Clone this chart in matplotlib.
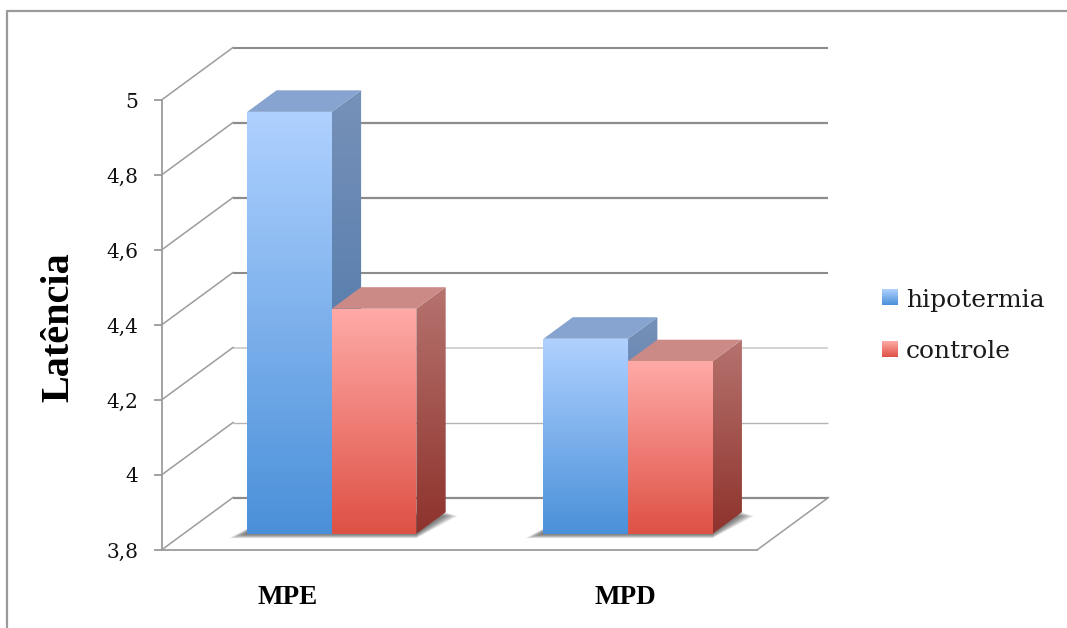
import numpy as np
import matplotlib
matplotlib.use("Agg")
import matplotlib.pyplot as plt
from matplotlib.colors import LinearSegmentedColormap
from matplotlib.lines import Line2D
from matplotlib.patches import Polygon

categories = ["MPE", "MPD"]
series_names = ["hipotermia", "controle"]
hipotermia = [4.925, 4.32]
controle = [4.40, 4.26]
tick_values = [3.8, 4.0, 4.2, 4.4, 4.6, 4.8, 5.0]
tick_labels = ["3,8", "4", "4,2", "4,4", "4,6", "4,8", "5"]

W, H = 1067, 628
AX_L, AX_R, AX_T, AX_B = 161.5, 757.0, 100.0, 550.0
WALL_DX, WALL_DY = 71.5, 52.5
Y0, Y1 = 3.8, 5.0
BAR_W = 0.284
NEAR, FAR = 0.31, 0.72
GRAY = "#929292"

fig = plt.figure(figsize=(W / 100, H / 100), dpi=100, facecolor="white")
ax = fig.add_axes([AX_L / W, 1 - AX_B / H, (AX_R - AX_L) / W, (AX_B - AX_T) / H])
ax.set_facecolor("none")
XS = (AX_R - AX_L) / 2
YS = (AX_B - AX_T) / (Y1 - Y0)


def project(x, v, depth):
    """Place a point given in chart units at a fraction of the wall depth."""
    return x + depth * WALL_DX / XS, v + depth * WALL_DY / YS


def cmap(top, bottom):
    return LinearSegmentedColormap.from_list("g", [bottom, top])


def shade(points, top, bottom, z):
    """Fill a polygon with a vertical colour gradient."""
    pts = np.array(points)
    poly = Polygon(pts, closed=True, fc="none", ec="none", transform=ax.transData)
    ax.add_patch(poly)
    grad = np.linspace(1, 0, 256).reshape(-1, 1)
    im = ax.imshow(grad, cmap=cmap(top, bottom), vmin=0, vmax=1, aspect="auto",
                   interpolation="bilinear", zorder=z,
                   extent=[pts[:, 0].min(), pts[:, 0].max(), pts[:, 1].min(), pts[:, 1].max()])
    im.set_clip_box(fig.bbox)
    im.set_clip_path(poly)


def bar3d(x0, value, front, side, roof, z):
    x1 = x0 + BAR_W
    shade([project(x0, Y0, NEAR), project(x1, Y0, NEAR),
           project(x1, value, NEAR), project(x0, value, NEAR)], front[0], front[1], z + 0.2)
    shade([project(x1, Y0, NEAR), project(x1, Y0, FAR),
           project(x1, value, FAR), project(x1, value, NEAR)], side[0], side[1], z)
    ax.add_patch(Polygon([project(x0, value, NEAR), project(x1, value, NEAR),
                          project(x1, value, FAR), project(x0, value, FAR)],
                         closed=True, fc=roof, ec="none", zorder=z + 0.1, clip_on=False))


# back wall, side wall and floor edge
back_colors = ["#8c8c8c", "#b4b4b4", "#cfcfcf", "#8c8c8c", "#8c8c8c", "#8c8c8c", "#8c8c8c"]
back_widths = [1.6, 1.0, 1.3, 1.5, 1.6, 1.6, 1.5]
for v, c, lw in zip(tick_values, back_colors, back_widths):
    xs, ys = zip(project(0, v, 1), project(2, v, 1))
    ax.plot(xs, ys, color=c, lw=lw, zorder=1, clip_on=False, solid_capstyle="butt")
    xs, ys = zip(project(0, v, 0), project(0, v, 1))
    ax.plot(xs, ys, color="#9c9c9c", lw=1.1, zorder=1, clip_on=False)
xs, ys = zip(project(2, Y0, 0), project(2, Y0, 1))
ax.plot(xs, ys, color="#9c9c9c", lw=1.1, zorder=1, clip_on=False)

# soft shadows on the floor below each pair of bars
centers = (np.arange(len(categories)) + 0.5) * 0.995
for c in centers:
    for k in range(1, 11):
        e = k / 10
        pts = [project(c - BAR_W - e * 12 / XS, Y0, NEAR - e * 0.085),
               project(c + BAR_W + e * 6 / XS, Y0, NEAR - e * 0.085),
               project(c + BAR_W + e * 17 / XS, Y0, FAR - e * 0.07),
               project(c - BAR_W, Y0, FAR - e * 0.07)]
        ax.add_patch(Polygon(pts, closed=True, fc="#444444", ec="none", alpha=0.11,
                             zorder=1.5, clip_on=False))

blue = dict(front=("#AFD1FF", "#4A90D9"), side=("#7791B9", "#3F6FA3"), roof="#86A4CF")
red = dict(front=("#FFAAA7", "#DE5145"), side=("#B6736F", "#8E322C"), roof="#CC8A86")
for i, c in enumerate(centers):
    bar3d(c - BAR_W, hipotermia[i], blue["front"], blue["side"], blue["roof"], 2 + 2 * i)
    bar3d(c, controle[i], red["front"], red["side"], red["roof"], 3 + 2 * i)

ax.set_xlim(0, 2)
ax.set_ylim(Y0, Y1)
ax.set_yticks(tick_values)
ax.set_yticklabels(tick_labels, family="DejaVu Serif", fontsize=14.5, color="#111111",
                   verticalalignment="center_baseline")
ax.set_xticks([])
ax.tick_params(axis="y", length=5.5, width=1.2, color=GRAY, pad=11)
for side in ("top", "right"):
    ax.spines[side].set_visible(False)
for side in ("left", "bottom"):
    ax.spines[side].set_color("#9c9c9c")
    ax.spines[side].set_linewidth(1.3)

fig.text(59 / W, 1 - 327 / H, "Latência", rotation=90, ha="center", va="center",
         family="Liberation Serif", weight="bold", fontsize=29, color="black")
for name, px in zip(categories, (288, 625)):
    fig.text(px / W, 1 - 597 / H, name, ha="center", va="center",
             family="Liberation Serif", weight="bold", fontsize=19.5, color="black")

# legend
legend_rows = [(289, blue["front"]), (341, red["front"])]
for (py, (top, bottom)), name in zip(legend_rows, series_names):
    key = fig.add_axes([882 / W, 1 - (py + 16) / H, 16 / W, 16 / H])
    key.imshow(np.linspace(1, 0, 64).reshape(-1, 1), cmap=cmap(top, bottom), vmin=0, vmax=1,
               aspect="auto", interpolation="bilinear")
    key.axis("off")
    fig.text(906 / W, 1 - (py + 11) / H, name, ha="left", va="center",
             family="DejaVu Serif", fontsize=18, color="#1a1a1a")

# chart frame, open at the right and bottom
fig.add_artist(Line2D([7 / W, 7 / W, 1], [0, 1 - 11 / H, 1 - 11 / H], color="#9a9a9a",
                      lw=1.6, transform=fig.transFigure))

fig.savefig("out.png", dpi=100)
